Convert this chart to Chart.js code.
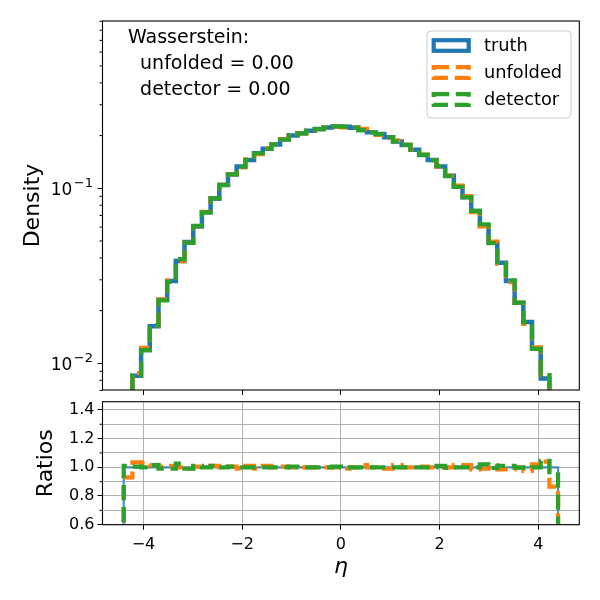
<!DOCTYPE html>
<html>
<head>
<meta charset="utf-8">
<script src="https://cdn.jsdelivr.net/npm/chart.js@4.4.0/dist/chart.umd.min.js"></script>
<style>
  body { margin: 0; background: #fff; }
  #wrap { position: relative; width: 600px; height: 600px; }
  canvas { position: absolute; left: 0; }
  #main { top: 0; }
  #ratio { top: 396px; }
</style>
</head>
<body>
<div id="wrap">
  <canvas id="main" width="600" height="396"></canvas>
  <canvas id="ratio" width="600" height="204"></canvas>
</div>
<script>
// bin edges of the eta histogram (50 bins)
const binEdges = [
  -4.4, -4.224, -4.048, -3.872, -3.696, -3.52, -3.344, -3.168, -2.992, -2.816,
  -2.64, -2.464, -2.288, -2.112, -1.936, -1.76, -1.584, -1.408, -1.232, -1.056,
  -0.88, -0.704, -0.528, -0.352, -0.176, 0, 0.176, 0.352, 0.528, 0.704,
  0.88, 1.056, 1.232, 1.408, 1.584, 1.76, 1.936, 2.112, 2.288, 2.464,
  2.64, 2.816, 2.992, 3.168, 3.344, 3.52, 3.696, 3.872, 4.048, 4.224, 4.4,
];
// truth density per bin
const truth = [
  0.0062, 0.0085, 0.0119, 0.0163, 0.0231, 0.0295, 0.0384, 0.0493, 0.0604, 0.0729,
  0.087, 0.1045, 0.1197, 0.133, 0.145, 0.1585, 0.168, 0.178, 0.19, 0.2,
  0.206, 0.213, 0.218, 0.2225, 0.225, 0.225, 0.222, 0.215, 0.209, 0.204,
  0.196, 0.185, 0.177, 0.166, 0.155, 0.145, 0.133, 0.118, 0.102, 0.0889,
  0.0742, 0.0611, 0.0489, 0.0376, 0.0295, 0.0222, 0.0172, 0.0121, 0.0082, 0.006,
];
// ratios to truth
const unfoldedRatio = [
  0.93, 1.035, 1.03, 1.015, 1.005, 1.01, 1.0, 0.99, 1.005, 1.005,
  1.01, 1.0, 1.005, 0.99, 1.01, 0.99, 1.01, 1.0, 1.005, 1.0,
  1.0, 1.0, 1.0, 1.0, 1.0, 0.99, 1.0, 1.015, 1.0, 0.99,
  0.99, 1.015, 1.0, 1.0, 1.005, 1.0, 1.0, 1.0, 1.015, 1.015,
  0.985, 0.99, 1.015, 0.985, 0.985, 1.0, 0.975, 1.02, 1.04, 0.865,
];
const detectorRatio = [
  1.01, 1.005, 1.0, 1.015, 0.99, 0.99, 1.025, 0.99, 1.01, 1.0,
  1.01, 1.0, 1.005, 1.0, 1.0, 1.0, 1.0, 1.0, 1.0, 1.005,
  1.0, 1.0, 1.0, 1.0, 1.005, 1.0, 1.0, 1.0, 1.0, 1.0,
  1.0, 1.0, 1.0, 1.0, 1.0, 1.0, 1.01, 0.995, 1.0, 1.0,
  1.0, 1.02, 0.995, 1.01, 1.01, 0.998, 0.998, 1.0, 1.045, 0.95,
];

const xTicks = [-4, -2, 0, 2, 4];
const xTickLabels = ["\u22124", "\u22122", "0", "2", "4"];
const densityTicks = [0.01, 0.1];
const densityTickBase = "10";
const densityTickExponents = ["\u22122", "\u22121"];
const densityMinor = [0.007, 0.008, 0.009, 0.02, 0.03, 0.04, 0.05, 0.06, 0.07, 0.08, 0.09,
  0.2, 0.3, 0.4, 0.5, 0.6, 0.7, 0.8, 0.9];
const ratioTicks = [0.6, 0.8, 1.0, 1.2, 1.4];
const ratioTickLabels = ["0.6", "0.8", "1.0", "1.2", "1.4"];
const ratioMinor = [0.7, 0.9, 1.1, 1.3];
const legendLabels = ["truth", "unfolded", "detector"];
const noteLines = ["Wasserstein:", "  unfolded = 0.00", "  detector = 0.00"];

const BLUE = "#1f77b4";
const ORANGE = "#ff7f0e";
const GREEN = "#2ca02c";
const DASH = [15.4, 6.7];
const FONT = "'DejaVu Sans', sans-serif";

Chart.defaults.font.family = FONT;
Chart.defaults.color = "#000";

const unfolded = truth.map((t, i) => t * unfoldedRatio[i]);
const detector = truth.map((t, i) => t * detectorRatio[i]);
const truthRatio = truth.map((t) => t / t);

// outline of a step histogram, starting and ending on the floor value
function stepPoints(values, floor) {
  const last = binEdges.length - 1;
  const pts = [{ x: binEdges[0], y: floor }];
  values.forEach((v, i) => pts.push({ x: binEdges[i], y: v }));
  pts.push({ x: binEdges[last], y: values[values.length - 1] });
  pts.push({ x: binEdges[last], y: floor });
  return pts;
}

function minorTicks(axisId, values, len) {
  return {
    id: "minor_" + axisId,
    afterDraw(chart) {
      const s = chart.scales[axisId];
      const ctx = chart.ctx;
      ctx.save();
      ctx.strokeStyle = "#000";
      ctx.lineWidth = 1;
      values.forEach((v) => {
        const y = s.getPixelForValue(v);
        ctx.beginPath();
        ctx.moveTo(s.right - len, y);
        ctx.lineTo(s.right, y);
        ctx.stroke();
      });
      ctx.restore();
    },
  };
}

// 10^n labels with a raised exponent, placed on the log axis ticks
const powerLabels = {
  id: "powerLabels",
  afterDraw(chart) {
    const s = chart.scales.y;
    const ctx = chart.ctx;
    const xr = s.right - 9.5;
    ctx.save();
    ctx.fillStyle = "#000";
    ctx.textAlign = "right";
    ctx.textBaseline = "alphabetic";
    densityTicks.forEach((v, i) => {
      const y = s.getPixelForValue(v);
      ctx.font = "13px " + FONT;
      const exp = densityTickExponents[i];
      ctx.fillText(exp, xr, y - 1);
      const w = ctx.measureText(exp).width;
      ctx.font = "17px " + FONT;
      ctx.fillText(densityTickBase, xr - w - 1.5, y + 7);
    });
    ctx.restore();
  },
};

const frame = {
  id: "frame",
  afterDatasetsDraw(chart) {
    const a = chart.chartArea;
    const ctx = chart.ctx;
    ctx.save();
    ctx.strokeStyle = "#000";
    ctx.lineWidth = 1.1;
    ctx.strokeRect(a.left, a.top, a.right - a.left, a.bottom - a.top);
    ctx.restore();
  },
};

const legendBox = {
  id: "legendBox",
  afterDraw(chart) {
    const ctx = chart.ctx;
    ctx.save();
    ctx.beginPath();
    ctx.roundRect(427, 31, 144, 87, 4);
    ctx.fillStyle = "rgba(255,255,255,0.8)";
    ctx.fill();
    ctx.strokeStyle = "#cccccc";
    ctx.lineWidth = 1;
    ctx.stroke();
    ctx.font = "17.8px " + FONT;
    ctx.textBaseline = "middle";
    legendLabels.forEach((label, i) => {
      const ds = chart.data.datasets.find((d) => d.label === label);
      const cy = 45.5 + i * 27;
      ctx.strokeStyle = ds.borderColor;
      ctx.lineWidth = 4.2;
      ctx.setLineDash(ds.borderDash || []);
      ctx.strokeRect(433.7, cy - 5.3, 35, 10.6);
      ctx.setLineDash([]);
      ctx.fillStyle = "#000";
      ctx.fillText(label, 484, cy + 0.5);
    });
    ctx.restore();
  },
};

const note = {
  id: "note",
  afterDraw(chart) {
    const ctx = chart.ctx;
    ctx.save();
    ctx.font = "19px " + FONT;
    ctx.fillStyle = "#000";
    ctx.textBaseline = "middle";
    noteLines.forEach((line, i) => ctx.fillText(line, 128, 38.5 + i * 26));
    ctx.restore();
  },
};

function xAxis(height, showLabels, grid) {
  return {
    type: "linear",
    min: -4.83,
    max: 4.83,
    afterBuildTicks: (s) => { s.ticks = xTicks.map((v) => ({ value: v })); },
    afterFit: (s) => { s.height = height; s.paddingLeft = 0; s.paddingRight = 0; },
    ticks: {
      display: showLabels,
      callback: (v, i) => xTickLabels[i],
      font: { size: 16 },
      color: "#000",
      padding: 6,
      maxRotation: 0,
      autoSkip: false,
    },
    grid: {
      drawOnChartArea: grid,
      color: "#b0b0b0",
      lineWidth: 1,
      tickColor: "#000",
      tickLength: 5,
      tickWidth: 1,
    },
    border: { display: false },
  };
}

function drawMain() {
  new Chart(document.getElementById("main"), {
    type: "line",
    data: {
      datasets: [
        { label: "truth", data: stepPoints(truth, 1e-4), borderColor: BLUE, borderWidth: 4.5, order: 3 },
        { label: "unfolded", data: stepPoints(unfolded, 1e-4), borderColor: ORANGE, borderWidth: 4.2, borderDash: DASH, order: 2 },
        { label: "detector", data: stepPoints(detector, 1e-4), borderColor: GREEN, borderWidth: 4.2, borderDash: DASH, order: 1 },
      ],
    },
    options: {
      responsive: false,
      animation: false,
      layout: { padding: { top: 21, right: 20.7, bottom: 0, left: 0 } },
      elements: {
        point: { radius: 0 },
        line: { stepped: true, fill: false, tension: 0, borderCapStyle: "butt", borderJoinStyle: "miter" },
      },
      datasets: { line: { clip: 0 } },
      plugins: { legend: { display: false }, tooltip: { enabled: false } },
      scales: {
        x: xAxis(6, false, false),
        y: {
          type: "logarithmic",
          min: 0.00704,
          max: 0.903,
          afterBuildTicks: (s) => { s.ticks = densityTicks.map((v) => ({ value: v })); },
          afterFit: (s) => { s.width = 102.5; s.paddingTop = 0; s.paddingBottom = 0; },
          // labels are drawn by powerLabels
          ticks: { callback: () => "", font: { size: 16 }, padding: 3, autoSkip: false },
          grid: { drawOnChartArea: false, tickColor: "#000", tickLength: 5, tickWidth: 1 },
          border: { display: false },
          title: { display: true, text: "Density", color: "#000", font: { size: 22 }, padding: { top: 20, bottom: 0 } },
        },
      },
    },
    plugins: [minorTicks("y", densityMinor, 3), powerLabels, frame, legendBox, note],
  });
}

function drawRatio() {
  const ratioGrid = [...ratioTicks, ...ratioMinor].sort((a, b) => a - b);
  new Chart(document.getElementById("ratio"), {
    type: "line",
    data: {
      datasets: [
        { label: "truth", data: stepPoints(truthRatio, 0), borderColor: "rgba(31,119,180,0.8)", borderWidth: 2.2, order: 3 },
        { label: "unfolded", data: stepPoints(unfoldedRatio, 0), borderColor: ORANGE, borderWidth: 4.2, borderDash: DASH, order: 2 },
        { label: "detector", data: stepPoints(detectorRatio, 0), borderColor: GREEN, borderWidth: 4.2, borderDash: DASH, order: 1 },
      ],
    },
    options: {
      responsive: false,
      animation: false,
      layout: { padding: { top: 5.7, right: 20.7, bottom: 0, left: 0 } },
      elements: {
        point: { radius: 0 },
        line: { stepped: true, fill: false, tension: 0, borderCapStyle: "butt", borderJoinStyle: "miter" },
      },
      datasets: { line: { clip: 0 } },
      plugins: { legend: { display: false }, tooltip: { enabled: false } },
      scales: {
        x: {
          ...xAxis(75.3, true, true),
          title: { display: true, text: "\u03B7", color: "#000", font: { size: 22, style: "italic" }, padding: { top: 0, bottom: 20 } },
        },
        y: {
          type: "linear",
          min: 0.6,
          max: 1.457,
          afterBuildTicks: (s) => { s.ticks = ratioGrid.map((v) => ({ value: v })); },
          afterFit: (s) => { s.width = 102.5; s.paddingTop = 0; s.paddingBottom = 0; },
          ticks: {
            callback: (v) => {
              const i = ratioTicks.indexOf(v);
              return i >= 0 ? ratioTickLabels[i] : "";
            },
            font: { size: 16 },
            color: "#000",
            padding: 3,
            autoSkip: false,
          },
          grid: {
            color: "#b0b0b0",
            lineWidth: 1,
            tickColor: (c) => (ratioTicks.includes(c.tick.value) ? "#000" : "rgba(0,0,0,0)"),
            tickLength: 5,
            tickWidth: 1,
          },
          border: { display: false },
          title: { display: true, text: "Ratios", color: "#000", font: { size: 22 }, padding: { top: 33, bottom: 0 } },
        },
      },
    },
    plugins: [minorTicks("y", ratioMinor, 3), frame],
  });
}

drawMain();
drawRatio();
</script>
</body>
</html>
